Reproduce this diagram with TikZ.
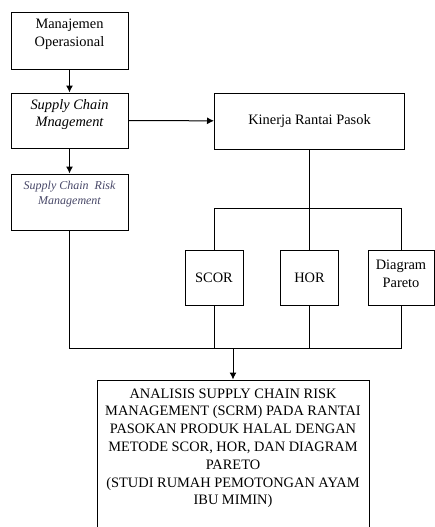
\documentclass[tikz,border=0pt]{standalone}
\usepackage{fontspec}
\setmainfont{Liberation Serif}
\usetikzlibrary{arrows.meta,positioning}
\definecolor{riskgrey}{RGB}{72,72,104}

\begin{document}
\begin{tikzpicture}[
		x=1pt, y=-1pt,
		line width=1pt,
		box/.style={draw, fill=white, minimum width=117pt, minimum height=56pt, inner sep=0pt},
		smallbox/.style={draw, fill=white, minimum width=58pt, minimum height=55pt, inner sep=0pt},
		txt/.style={align=center, inner sep=0pt, font=\fontsize{14.4pt}{17.8pt}\selectfont},
		arrow/.style={-{Latex[length=7pt,width=7pt]}},
	]
		\useasboundingbox (0,0) rectangle (435,527);
		\clip (0,0) rectangle (435,527);

		% left column
		\node (mo) [box] at (69.5,41) {};
		\node (mo-t) [txt] at ([yshift=7pt]mo.center) {Manajemen\\Operasional};
		\node (scm) [box, minimum height=55pt] at (69.5,120.5) {};
		\node (scm-t) [txt, font=\fontsize{14.4pt}{17.8pt}\selectfont\itshape] at ([yshift=6pt]scm.center) {Supply Chain\\Mnagement};
		\node (scrm) [box] at (69.5,202) {};
		\node (scrm-t) [txt, font=\fontsize{12pt}{15pt}\selectfont\itshape, text=riskgrey] at ([yshift=7.5pt]scrm.center) {Supply Chain~ Risk\\Management};

		% right side
		\node (kin) [box, minimum width=190pt] at (309.5,121) {};
		\node (kin-t) [txt] at (kin.center) {Kinerja Rantai Pasok};
		\node (scor) [smallbox] at (214,277.5) {};
		\node (scor-t) [txt] at (scor.center) {SCOR};
		\node (hor) [smallbox] at (309.5,277.5) {};
		\node (hor-t) [txt] at (hor.center) {HOR};
		\node (dia) [smallbox, minimum width=66pt] at (401,277.5) {};
		\node (dia-t) [txt] at ([yshift=4pt]dia.center) {Diagram\\Pareto};

		% result
		\node (res) [draw, fill=white, minimum width=272pt, minimum height=160pt, inner sep=0pt] at (233,460) {};
		\node (res-t) [txt, anchor=north] at (233,388) {ANALISIS SUPPLY CHAIN RISK\\MANAGEMENT (SCRM) PADA RANTAI\\PASOKAN PRODUK HALAL DENGAN\\METODE SCOR, HOR, DAN DIAGRAM\\PARETO\\(STUDI RUMAH PEMOTONGAN AYAM\\IBU MIMIN)};

		\coordinate (split) at (309.5,208);
		\coordinate (join) at (233,348);

		\draw[arrow] (mo) -- (scm);
		\draw[arrow] (scm) -- (scrm);
		\draw[arrow] (scm) -- (kin);
		\draw (kin) -- (hor);
		\draw (scor.north) -- (scor.north |- split) -- (dia.north |- split) -- (dia.north);
		\draw (scrm.south) -- (scrm.south |- join) -- (dia.south |- join) -- (dia.south);
		\draw (scor) -- (scor.south |- join);
		\draw (hor) -- (hor.south |- join);
		\draw[arrow] (join) -- (res);
	\end{tikzpicture}
\end{document}
